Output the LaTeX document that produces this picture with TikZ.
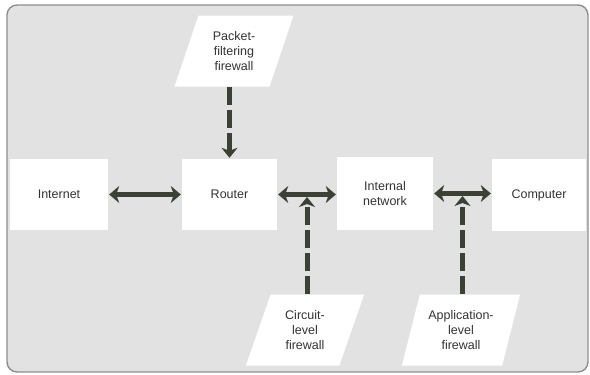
\documentclass[tikz,border=0pt]{standalone}
\usepackage{fontspec}
\setmainfont{Liberation Sans}
\usetikzlibrary{arrows.meta,shapes.geometric,calc}

\definecolor{panel}{HTML}{E2E2E2}
\definecolor{rim}{HTML}{8E8E8E}
\definecolor{ink}{HTML}{333333}
\definecolor{shaft}{HTML}{3C4136}

\tikzset{
  box/.style={fill=white, inner sep=0pt, text=ink, align=center,
    font=\fontsize{12.5}{15}\selectfont},
  slantbox/.style={trapezium, trapezium left angle=70, trapezium right angle=110,
    trapezium stretches=true, fill=white, inner sep=0pt, text=ink, align=center,
    minimum height=71pt, minimum width=119pt,
    font=\fontsize{12.5}{15}\selectfont},
  link/.style={draw=shaft, fill=shaft, line width=5pt,
    {Stealth[length=10pt,width=17pt,inset=3pt]}-{Stealth[length=10pt,width=17pt,inset=3pt]}},
  fwlink/.style={draw=shaft, line width=5pt, dash pattern=on 18pt off 5pt,
    -{Stealth[length=10pt,width=16pt,inset=3pt]}}
}

\begin{document}
\begin{tikzpicture}[x=1pt,y=-1pt]
  \useasboundingbox (0,0) rectangle (590,375);
  % panel
  \draw[rim, fill=panel, line width=1.4pt, rounded corners=10pt] (7,5) rectangle (588,372);

  % main chain
  \node[box, minimum width=98pt, minimum height=71pt] (inet) at (59,194.5) {Internet};
  \node[box, minimum width=95pt, minimum height=71pt] (router) at (229.5,194.5) {Router};
  \node[box, minimum width=96pt, minimum height=73pt] (lan) at (385,193.5) {Internal\\network};
  \node[box, minimum width=94pt, minimum height=72pt] (pc) at (539,195) {Computer};

  % firewalls
  \node[slantbox] (pff) at (234,51) {Packet-\\filtering\\firewall};
  \node[slantbox] (cfw) at (305,330) {Circuit-\\level\\firewall};
  \node[slantbox] (afw) at (461,330) {Application-\\level\\firewall};

  % links along the chain
  \draw[link, shorten <=1pt, shorten >=1pt] (inet.east) -- (router.west);
  \draw[link, shorten <=1pt, shorten >=1pt] (router.east) -- (router.east -| lan.west);
  \draw[link, shorten <=1pt, shorten >=1pt] (lan.east) -- (lan.east -| pc.west);

  % junctions on the links
  \coordinate (j1) at ($(router.east)!0.5!(router.east -| lan.west)$);
  \coordinate (j2) at ($(lan.east)!0.5!(lan.east -| pc.west)$);

  % firewall attachments
  \draw[fwlink, shorten >=1pt] (pff.south -| router.north) -- (router.north);
  \draw[fwlink, shorten >=2.5pt] (cfw.north -| j1) -- (j1);
  \draw[fwlink, shorten >=2.5pt] (afw.north -| j2) -- (j2);
\end{tikzpicture}
\end{document}
